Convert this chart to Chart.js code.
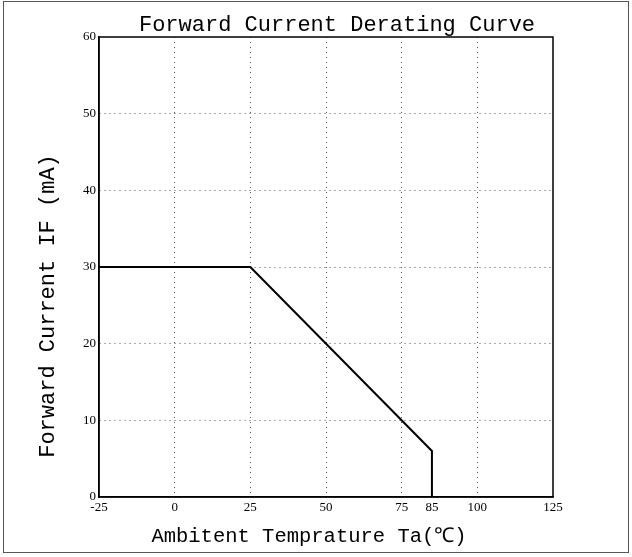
<!DOCTYPE html>
<html>
<head>
<meta charset="utf-8">
<script src="https://cdn.jsdelivr.net/npm/chart.js@4"></script>
<style>
  html, body { margin: 0; padding: 0; background: #ffffff; }
  #wrap { width: 632px; height: 557px; }
</style>
</head>
<body>
<div id="wrap"><canvas id="derating_chart" width="632" height="557"></canvas></div>
<script>
const temperatures = [-25, 25, 85, 85]
const currents = [30, 30, 6, 0]
const xTicks = [-25, 0, 25, 50, 75, 85, 100, 125]
const yTicks = [0, 10, 20, 30, 40, 50, 60]

const chartTitle = "Forward Current Derating Curve"
const xTitle = "Ambitent Temprature Ta(\u2103)"
const yTitle = "Forward Current IF (mA)"

// titles are drawn by hand so they can sit off-centre like the scan
const frame = {
  id: "frame",
  afterDatasetsDraw(chart) {
    const { ctx, chartArea: a } = chart
    ctx.save()
    ctx.strokeStyle = "#000000"
    ctx.lineWidth = 1.5
    ctx.setLineDash([])
    ctx.strokeRect(a.left, a.top, a.right - a.left, a.bottom - a.top)
    ctx.lineWidth = 1
    ctx.strokeStyle = "#555555"
    ctx.strokeRect(3.5, 1.5, 625, 551)

    ctx.fillStyle = "#000000"
    ctx.textAlign = "center"
    ctx.textBaseline = "middle"
    ctx.font = "22px 'Liberation Mono'"
    ctx.fillText(chartTitle, 337, 25)
    ctx.font = "20.5px 'Liberation Mono'"
    ctx.fillText(xTitle, 309, 537)
    ctx.translate(48, 306)
    ctx.rotate(-Math.PI / 2)
    ctx.font = "22px 'Liberation Mono'"
    ctx.fillText(yTitle, 0, 0)
    ctx.restore()
  },
}

const dotted = (value, edges) =>
  edges.includes(value) ? "rgba(0,0,0,0)" : "#555555"

new Chart(document.getElementById("derating_chart"), {
  type: "line",
  plugins: [frame],
  data: {
    datasets: [
      {
        data: temperatures.map((t, i) => ({ x: t, y: currents[i] })),
        borderColor: "#000000",
        borderWidth: 2,
        pointRadius: 0,
        tension: 0,
      },
    ],
  },
  options: {
    responsive: false,
    animation: false,
    devicePixelRatio: 1,
    layout: { padding: { left: 8, right: 79, top: 37, bottom: 0 } },
    scales: {
      x: {
        type: "linear",
        min: -25,
        max: 125,
        afterBuildTicks: (s) => {
          s.ticks = xTicks.map((v) => ({ value: v }))
        },
        afterFit: (s) => {
          s.height = 60
        },
        ticks: {
          color: "#000000",
          font: { family: "Liberation Serif", size: 13 },
          padding: 3,
          maxRotation: 0,
          autoSkip: false,
        },
        grid: {
          drawTicks: false,
          color: (c) => dotted(c.tick.value, [-25, 85, 125]),
          lineWidth: 1,
        },
        border: { display: true, color: "#000000", width: 1.5, dash: [1, 4] },
      },
      y: {
        type: "linear",
        min: 0,
        max: 60,
        afterBuildTicks: (s) => {
          s.ticks = yTicks.map((v) => ({ value: v }))
        },
        afterFit: (s) => {
          s.width = 91
        },
        ticks: {
          color: "#000000",
          font: { family: "Liberation Serif", size: 13 },
          padding: 3,
        },
        grid: {
          drawTicks: false,
          color: (c) => dotted(c.tick.value, [0, 60]),
          lineWidth: 1,
        },
        border: { display: true, color: "#000000", width: 1.5, dash: [1, 4] },
      },
    },
    plugins: {
      legend: { display: false },
      tooltip: { enabled: false },
      title: { display: false },
    },
  },
})
</script>
</body>
</html>
